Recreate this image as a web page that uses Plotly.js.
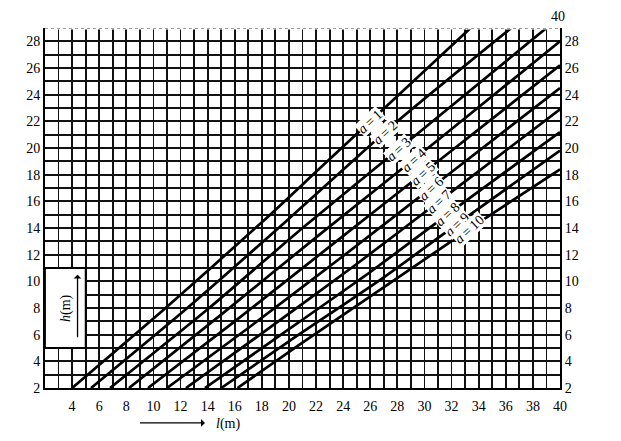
<!DOCTYPE html>
<html>
<head>
<meta charset="utf-8">
<script src="https://cdn.plot.ly/plotly-3.0.1.min.js"></script>
<style>html,body{margin:0;padding:0;background:#fff;}#chart{width:621px;height:441px;}</style>
</head>
<body>
<div id="chart"></div>
<script>
// Family of curves h(l) for a = 1..10
const aValues = [1,2,3,4,5,6,7,8,9,10];
const lA1 = [4.0, 10.9, 18.25, 22.2, 33.4];
const hA1 = [2.0, 8.0, 14.66, 18.4, 29.0];
const lA2 = [5.4, 12.5, 20.0, 28.0, 36.4];
const hA2 = [2.0, 8.0, 14.7, 22.0, 29.0];
const lA3 = [6.8, 14.0, 21.0, 30.0, 39.0];
const hA3 = [2.0, 7.9, 14.0, 21.5, 29.0];
const lA4 = [8.2, 15.0, 22.0, 31.0, 40.0];
const hA4 = [2.0, 7.5, 13.3, 20.6, 28.0];
const lA5 = [9.6, 16.0, 23.0, 31.5, 40.0];
const hA5 = [2.0, 7.0, 12.6, 19.4, 26.2];
const lA6 = [11.0, 17.0, 24.0, 32.0, 40.0];
const hA6 = [2.0, 6.5, 11.9, 18.2, 24.5];
const lA7 = [12.4, 18.0, 25.0, 32.5, 40.0];
const hA7 = [2.0, 6.1, 11.3, 17.1, 22.9];
const lA8 = [13.8, 19.0, 26.0, 33.0, 40.0];
const hA8 = [2.0, 5.7, 10.7, 16.0, 21.2];
const lA9 = [15.0, 20.0, 27.0, 33.5, 40.0];
const hA9 = [2.0, 5.5, 10.3, 15.1, 19.8];
const lA10 = [16.2, 20.7, 27.5, 34.0, 40.0];
const hA10 = [2.0, 5.2, 9.9, 14.4, 18.4];
const lSeries = [lA1,lA2,lA3,lA4,lA5,lA6,lA7,lA8,lA9,lA10];
const hSeries = [hA1,hA2,hA3,hA4,hA5,hA6,hA7,hA8,hA9,hA10];

// label anchor points (on the curves)
const labelL = [26.0, 27.1, 28.1, 29.2, 29.9, 30.5, 31.1, 31.7, 32.4, 33.3];
const labelH = [22.0, 21.2, 19.9, 19.1, 18.1, 17.0, 16.0, 15.0, 14.3, 13.9];

// tick labels
const xTickVals = [];
for (let v = 2; v <= 40; v++) xTickVals.push(v);
const xTickText = xTickVals.map(v => (v % 2 === 0 && v >= 4) ? String(v) : '');
const yTickVals = [];
for (let v = 2; v <= 29; v++) yTickVals.push(v);
const yTickText = yTickVals.map(v => (v % 2 === 0) ? String(v) : '');

const serif = 'Liberation Serif, Times New Roman, serif';

const traces = lSeries.map((ls, i) => ({
  type: 'scatter', mode: 'lines', x: ls, y: hSeries[i],
  line: {color: '#000', width: 2.7, shape: 'spline', smoothing: 0.6},
  hoverinfo: 'skip', showlegend: false
}));
// invisible trace so the right axis is drawn
traces.push({type:'scatter', mode:'lines', x:[2], y:[2], yaxis:'y2', showlegend:false, line:{color:'rgba(0,0,0,0)'}, hoverinfo:'skip'});

const annotations = aValues.map((a, i) => ({
  x: labelL[i], y: labelH[i], xref: 'x', yref: 'y',
  text: '<i>a</i>\u2009=\u2009' + a, showarrow: false, textangle: -43,
  font: {family: serif, size: 14, color: '#000'},
  bgcolor: '#fff', borderpad: 0
}));
annotations.push({
  x: 3.55, y: 8.0, xref: 'x', yref: 'y', text: '<i>h</i>(m)', showarrow: false,
  textangle: -90, font: {family: serif, size: 14, color: '#000'}
});
annotations.push({
  x: 4.4, y: 10.5, xref: 'x', yref: 'y', ax: 4.4, ay: 5.7, axref: 'x', ayref: 'y',
  text: '', showarrow: true, arrowhead: 1, arrowsize: 1, arrowwidth: 1.3, arrowcolor: '#000'
});
annotations.push({
  x: 13.8, y: -0.097, xref: 'x', yref: 'paper', ax: 8.9, ay: -0.097, axref: 'x', ayref: 'paper',
  text: '', showarrow: true, arrowhead: 1, arrowsize: 1, arrowwidth: 1.3, arrowcolor: '#000'
});
annotations.push({
  x: 15.5, y: -0.1, xref: 'x', yref: 'paper', yanchor: 'middle', xanchor: 'center',
  text: '<i>l</i>(m)', showarrow: false,
  font: {family: serif, size: 14, color: '#000'}
});
annotations.push({
  x: 40, y: 29, xref: 'x', yref: 'y', yshift: 12, xshift: -2, text: '40', showarrow: false,
  font: {family: serif, size: 14, color: '#000'}
});

const layout = {
  width: 621, height: 441,
  margin: {l: 45, r: 61, t: 28, b: 53},
  paper_bgcolor: '#fff', plot_bgcolor: '#fff',
  showlegend: false,
  xaxis: {
    range: [2, 40], tickmode: 'array', tickvals: xTickVals, ticktext: xTickText,
    showgrid: true, gridcolor: '#111', gridwidth: 1.8, zeroline: false,
    showline: true, linecolor: '#000', linewidth: 2, ticks: '',
    tickfont: {family: serif, size: 14, color: '#000'}, ticklabelstandoff: 4
  },
  yaxis: {
    range: [2, 29], tickmode: 'array', tickvals: yTickVals, ticktext: yTickText,
    showgrid: true, gridcolor: '#111', gridwidth: 1.8, zeroline: false,
    showline: true, linecolor: '#000', linewidth: 2, ticks: '',
    tickfont: {family: serif, size: 14, color: '#000'}
  },
  yaxis2: {
    range: [2, 29], overlaying: 'y', side: 'right', tickmode: 'array',
    tickvals: yTickVals, ticktext: yTickText, showgrid: false, zeroline: false,
    showline: true, linecolor: '#000', linewidth: 2, ticks: '',
    tickfont: {family: serif, size: 14, color: '#000'}
  },
  shapes: [
    {type: 'rect', xref: 'x', yref: 'y', x0: 2, x1: 5, y0: 5, y1: 11,
     fillcolor: '#fff', line: {color: '#000', width: 1.8}, layer: 'above'},
    {type: 'line', xref: 'x', yref: 'y', x0: 2, x1: 40, y0: 29, y1: 29,
     line: {color: '#fff', width: 3}, layer: 'above'},
    {type: 'line', xref: 'x', yref: 'y', x0: 2, x1: 40, y0: 29, y1: 29,
     line: {color: '#444', width: 1.2, dash: 'dot'}, layer: 'above'}
  ],
  annotations: annotations
};

Plotly.newPlot('chart', traces, layout, {displayModeBar: false, staticPlot: true});
</script>
</body>
</html>
